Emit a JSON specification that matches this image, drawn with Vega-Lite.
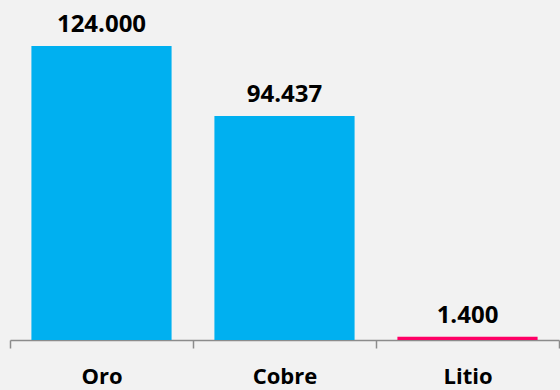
{
  "$schema": "https://vega.github.io/schema/vega-lite/v6.json",
  "autosize": "none",
  "width": 549,
  "height": 340,
  "padding": {"left": 10, "top": 0, "right": 1, "bottom": 50},
  "background": "#f2f2f2",
  "config": {"view": {"stroke": null}},
  "data": {"values": [
    {"mineral": "Oro", "valor": 124.0, "etiqueta": "124.000"},
    {"mineral": "Cobre", "valor": 94.437, "etiqueta": "94.437"},
    {"mineral": "Litio", "valor": 1.4, "etiqueta": "1.400"}
  ]},
  "encoding": {
    "x": {"field": "mineral", "type": "nominal", "sort": null,
      "scale": {"paddingInner": 0, "paddingOuter": 0},
      "axis": {"title": null, "labelAngle": 0, "labelFont": "Open Sans", "labelFontWeight": "bold", "labelFontSize": 22, "labelColor": "#000000", "labelPadding": 18, "domainColor": "#8c8c8c", "domainWidth": 1.5, "tickColor": "#8c8c8c", "tickWidth": 1.5, "tickSize": 8, "tickBand": "extent"}},
    "y": {"field": "valor", "type": "quantitative", "scale": {"domain": [0, 143.4], "nice": false}, "axis": null}
  },
  "layer": [
    {"mark": {"type": "bar", "width": {"band": 0.766}},
     "encoding": {"color": {"field": "mineral", "type": "nominal", "scale": {"domain": ["Oro", "Cobre", "Litio"], "range": ["#00b0f0", "#00b0f0", "#ff0066"]}, "legend": null}}},
    {"mark": {"type": "text", "baseline": "alphabetic", "dy": -14, "font": "Open Sans", "fontWeight": "bold", "fontSize": 24, "color": "#000000"},
     "encoding": {"text": {"field": "etiqueta"}}}
  ]
}
